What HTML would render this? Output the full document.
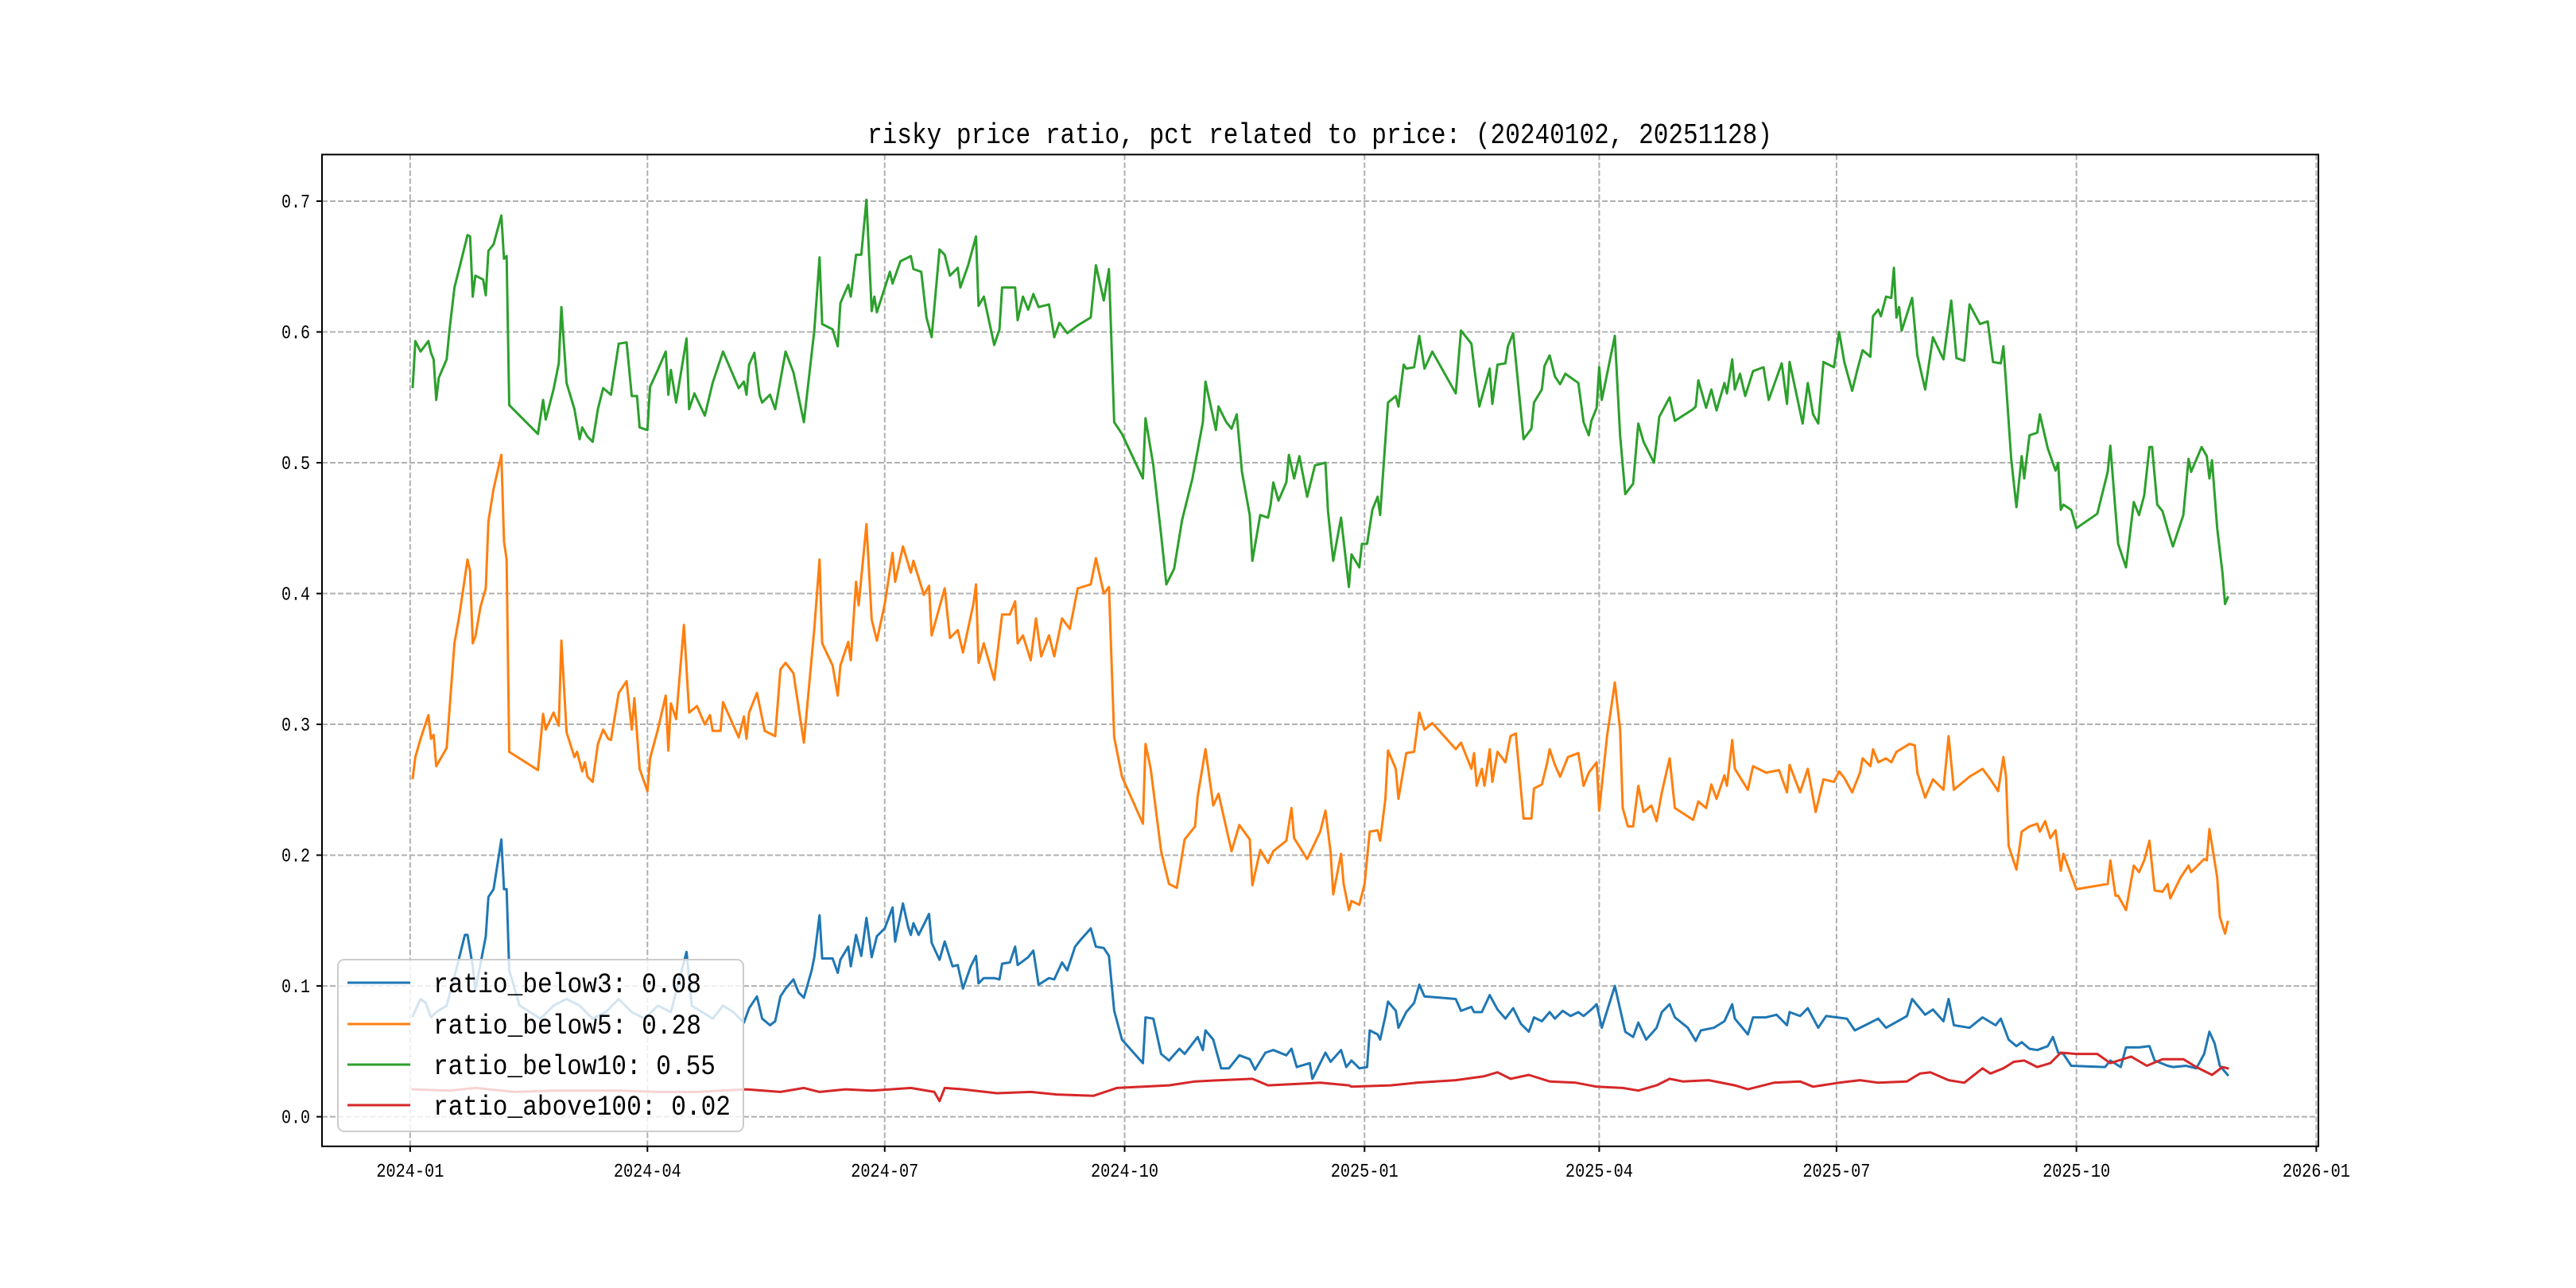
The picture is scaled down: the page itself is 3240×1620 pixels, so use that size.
<!DOCTYPE html>
<html>
<head>
<meta charset="utf-8">
<style>
html,body{margin:0;padding:0;background:#fff;}
svg{display:block;}
text{font-family:"Liberation Mono","Noto Sans CJK SC",monospace;fill:#000;}
</style>
</head>
<body>
<svg id="chart" width="3240" height="1620" viewBox="0 0 3240 1620" xmlns="http://www.w3.org/2000/svg">
<rect x="0" y="0" width="3240" height="1620" fill="#fff"/>
<text x="1660" y="180" font-size="36" text-anchor="middle" textLength="1138" lengthAdjust="spacingAndGlyphs">risky price ratio, pct related to price: (20240102, 20251128)</text>
<g id="grid"></g>
<g id="series"></g>
<rect x="405" y="194.4" width="2511" height="1247.4" fill="none" stroke="#000" stroke-width="2"/>
<g id="axes"></g>
<g id="legend"></g>
</svg>
<script>
// x values are day offsets from 2024-01-01
const xTickDays = [0, 91, 182, 274, 366, 456, 547, 639, 731];
const xTickLabels = ["2024-01","2024-04","2024-07","2024-10","2025-01","2025-04","2025-07","2025-10","2026-01"];
const yTicks = [0.0, 0.1, 0.2, 0.3, 0.4, 0.5, 0.6, 0.7];
const yTickLabels = ["0.0","0.1","0.2","0.3","0.4","0.5","0.6","0.7"];
const seriesNames = ["ratio_below3","ratio_below5","ratio_below10","ratio_above100"];
const legendValues = ["0.08","0.28","0.55","0.02"];

const below3Days = [1,4,6,8,10,14,18,21,22,24,25,27,29,30,32,35,36,37,38,42,46,50,55,60,65,70,75,80,85,90,95,100,106,108,112,116,120,124,128,130,133,135,138,140,142,144,147,149,151,154,155,157,158,162,164,165,168,169,171,173,175,177,179,182,185,186,189,191,192,193,195,197,199,200,203,205,208,210,212,215,217,218,220,224,226,227,230,232,233,237,239,241,245,247,250,252,255,257,261,263,266,268,270,273,281,282,285,288,291,295,297,302,304,305,308,311,314,318,322,324,328,331,336,338,340,345,346,351,353,357,359,361,364,367,368,371,372,374,375,378,379,382,385,387,389,401,403,407,408,411,414,417,420,423,426,429,431,434,437,439,442,445,448,450,453,455,457,462,466,469,471,474,478,480,483,485,490,493,495,500,504,507,508,513,515,520,524,528,529,533,536,540,543,551,554,558,563,566,574,576,581,584,588,590,592,598,603,608,610,613,616,618,621,624,628,630,632,634,637,650,652,656,658,663,667,669,674,676,681,685,688,690,692,694,697];
const below3Vals = [.077,.090,.087,.076,.080,.085,.115,.139,.139,.115,.097,.117,.138,.168,.174,.212,.174,.174,.112,.085,.080,.075,.085,.090,.085,.075,.080,.090,.080,.075,.085,.080,.126,.085,.080,.075,.085,.080,.072,.083,.092,.075,.070,.073,.092,.098,.105,.095,.091,.112,.122,.154,.121,.121,.110,.120,.130,.115,.139,.123,.152,.122,.138,.144,.160,.134,.163,.145,.139,.148,.139,.147,.155,.133,.120,.134,.115,.116,.098,.115,.123,.102,.106,.106,.105,.117,.118,.130,.116,.122,.127,.101,.106,.105,.118,.112,.130,.135,.144,.130,.129,.123,.081,.059,.041,.076,.075,.048,.043,.052,.048,.061,.051,.066,.059,.037,.037,.047,.044,.036,.049,.051,.047,.052,.038,.041,.029,.049,.042,.051,.038,.043,.037,.038,.066,.063,.059,.077,.088,.081,.068,.080,.087,.101,.092,.090,.081,.084,.080,.080,.093,.082,.075,.083,.071,.065,.076,.073,.080,.075,.081,.077,.080,.077,.082,.086,.068,.100,.065,.061,.072,.059,.068,.080,.086,.076,.068,.058,.066,.068,.073,.086,.075,.063,.076,.076,.078,.070,.080,.077,.083,.068,.077,.075,.066,.070,.075,.068,.077,.090,.078,.082,.073,.090,.070,.068,.076,.070,.075,.059,.054,.057,.052,.051,.054,.061,.049,.048,.039,.038,.043,.038,.053,.053,.054,.043,.039,.038,.039,.037,.048,.065,.056,.039,.032];

const below5Days = [1,2,4,7,8,9,10,14,17,19,22,23,24,25,27,29,30,32,35,36,37,38,49,51,52,55,57,58,60,63,64,66,67,68,70,72,74,76,77,80,83,85,86,88,91,92,95,98,99,100,102,105,107,110,113,115,116,119,120,126,128,129,130,133,136,140,142,144,147,151,155,157,158,162,164,165,168,169,171,172,175,177,179,182,185,186,189,192,193,197,199,200,205,207,210,212,216,217,218,220,224,227,230,232,233,235,238,240,242,245,247,250,253,256,261,263,266,268,270,273,281,282,284,288,291,294,297,301,302,305,308,310,315,318,322,323,326,329,331,336,338,339,344,349,351,353,354,357,358,360,361,364,366,368,371,372,374,375,378,379,382,385,387,389,392,401,403,407,408,409,411,412,414,415,417,420,422,424,427,430,431,434,436,437,439,441,444,448,450,452,455,456,459,462,464,465,467,469,471,473,476,478,480,483,485,492,494,497,499,501,504,505,507,508,513,515,520,525,528,529,533,536,539,542,546,548,550,553,556,557,560,561,563,566,568,570,575,577,578,581,584,588,590,592,598,603,606,609,611,612,613,616,618,621,624,625,627,629,631,633,634,639,651,652,654,655,658,661,663,665,667,669,672,674,675,679,682,683,688,689,690,693,694,696,697];
const below5Vals = [.259,.275,.289,.307,.289,.292,.268,.282,.362,.385,.426,.417,.362,.367,.390,.404,.455,.480,.506,.440,.426,.279,.265,.308,.296,.309,.299,.364,.294,.275,.279,.264,.271,.260,.256,.285,.296,.289,.288,.324,.333,.296,.320,.266,.249,.274,.296,.322,.280,.316,.304,.376,.309,.314,.300,.307,.295,.295,.317,.290,.306,.289,.309,.324,.295,.291,.342,.347,.339,.286,.373,.426,.362,.345,.322,.345,.363,.349,.409,.391,.453,.380,.364,.392,.431,.409,.436,.416,.425,.399,.406,.368,.404,.366,.372,.355,.392,.407,.347,.362,.334,.384,.384,.394,.362,.368,.349,.381,.352,.368,.352,.381,.373,.404,.407,.427,.400,.405,.290,.260,.224,.285,.266,.203,.178,.175,.212,.222,.245,.281,.238,.247,.203,.223,.212,.177,.204,.194,.203,.211,.236,.213,.197,.218,.234,.202,.170,.201,.178,.158,.165,.162,.178,.218,.219,.211,.243,.280,.266,.243,.278,.279,.309,.296,.301,.281,.286,.266,.278,.253,.266,.253,.281,.256,.279,.271,.291,.293,.228,.228,.251,.254,.270,.281,.269,.260,.275,.278,.253,.263,.271,.234,.291,.332,.296,.236,.222,.222,.253,.233,.238,.226,.248,.274,.236,.227,.241,.236,.254,.243,.261,.253,.288,.266,.250,.268,.263,.265,.248,.269,.248,.266,.233,.258,.256,.264,.259,.248,.263,.274,.268,.281,.271,.274,.271,.279,.285,.284,.263,.244,.258,.250,.291,.250,.260,.266,.258,.249,.275,.260,.207,.189,.218,.222,.224,.218,.226,.213,.219,.188,.201,.174,.178,.196,.169,.169,.158,.192,.187,.196,.211,.173,.172,.178,.167,.183,.192,.187,.197,.196,.220,.183,.153,.140,.149];

const below10Days = [1,2,4,7,8,9,10,11,14,15,17,20,22,23,24,25,28,29,30,32,35,36,37,38,49,51,52,55,57,58,60,63,65,66,68,70,72,74,77,80,83,85,87,88,91,92,95,98,99,100,102,106,107,109,113,116,120,126,128,129,130,132,134,135,138,140,144,147,151,155,157,158,162,164,165,168,169,171,173,175,177,178,179,184,185,188,192,193,196,198,200,203,205,207,210,211,214,217,218,220,224,226,227,232,233,235,237,239,241,245,247,249,252,256,261,263,266,268,270,273,281,282,285,288,290,293,296,300,304,305,309,310,313,315,317,319,322,323,326,329,330,331,333,336,337,339,341,344,347,351,352,354,357,360,361,364,365,367,369,371,372,375,378,379,381,382,385,387,389,392,401,403,407,408,410,414,415,417,420,421,423,427,430,431,434,435,437,439,441,443,448,450,452,453,455,456,457,462,464,466,469,471,473,477,478,479,483,485,492,493,494,497,499,501,504,505,507,508,510,512,515,519,521,526,528,529,534,536,538,540,542,546,548,550,553,555,557,560,561,563,564,566,568,569,570,571,572,576,578,581,584,588,591,593,596,598,602,605,607,610,611,612,614,616,618,619,621,624,625,628,631,632,633,634,637,639,647,651,652,654,655,658,661,663,665,667,668,670,672,674,676,680,682,683,687,689,690,691,693,695,696,697];
const below10Vals = [.558,.593,.585,.593,.584,.579,.548,.565,.579,.600,.634,.658,.674,.673,.627,.643,.640,.628,.662,.667,.689,.656,.658,.544,.522,.548,.533,.556,.576,.619,.561,.541,.518,.527,.520,.516,.541,.557,.552,.591,.592,.551,.551,.527,.525,.558,.571,.585,.552,.571,.546,.595,.541,.553,.536,.561,.585,.557,.562,.552,.575,.584,.552,.546,.552,.541,.585,.569,.531,.601,.657,.606,.602,.589,.622,.636,.627,.659,.659,.701,.616,.627,.615,.646,.637,.654,.658,.648,.646,.611,.596,.663,.659,.643,.649,.634,.651,.673,.620,.627,.590,.602,.634,.634,.609,.627,.617,.629,.619,.621,.596,.607,.599,.605,.611,.651,.624,.648,.531,.522,.488,.534,.498,.445,.407,.419,.456,.488,.531,.562,.525,.543,.531,.526,.537,.493,.460,.425,.460,.458,.468,.485,.471,.485,.506,.488,.505,.474,.498,.500,.463,.425,.458,.405,.430,.420,.438,.438,.464,.474,.460,.546,.551,.543,.575,.572,.573,.597,.572,.585,.553,.601,.591,.574,.543,.572,.545,.575,.576,.589,.599,.518,.526,.546,.556,.574,.582,.566,.560,.568,.561,.531,.521,.532,.542,.573,.548,.597,.521,.476,.484,.530,.516,.500,.516,.535,.550,.532,.541,.543,.563,.542,.556,.540,.561,.553,.579,.556,.568,.551,.570,.573,.548,.576,.545,.577,.530,.561,.537,.530,.577,.573,.600,.577,.555,.571,.586,.581,.612,.617,.612,.627,.626,.649,.611,.619,.601,.626,.582,.556,.596,.579,.624,.580,.578,.621,.606,.608,.577,.576,.589,.561,.503,.466,.505,.488,.521,.523,.537,.511,.494,.500,.464,.468,.464,.450,.461,.493,.513,.463,.438,.420,.470,.460,.475,.512,.512,.468,.463,.449,.436,.460,.503,.493,.512,.505,.488,.502,.450,.416,.392,.397];

const above100Days = [1,15,25,40,55,80,95,110,129,142,151,157,167,177,192,201,203,205,212,225,238,248,262,271,281,291,301,311,323,329,339,349,360,361,376,386,401,412,417,422,429,437,447,455,465,471,478,483,488,498,508,513,523,533,538,548,556,563,574,579,583,590,596,603,606,611,615,619,624,629,633,639,647,652,660,666,672,680,685,691,695,697];
const above100Vals = [.021,.020,.022,.019,.020,.020,.019,.019,.021,.019,.022,.019,.021,.020,.022,.019,.012,.022,.021,.018,.019,.017,.016,.022,.023,.024,.027,.028,.029,.024,.025,.026,.024,.023,.024,.026,.028,.031,.034,.029,.032,.027,.026,.023,.022,.020,.024,.029,.027,.028,.024,.021,.026,.027,.023,.026,.028,.026,.027,.033,.034,.028,.026,.037,.033,.037,.042,.043,.038,.041,.049,.048,.048,.041,.046,.039,.044,.044,.038,.032,.038,.037];

const seriesDays = [below3Days, below5Days, below10Days, above100Days];
const seriesVals = [below3Vals, below5Vals, below10Vals, above100Vals];
const seriesColors = ["#1f77b4","#ff7f0e","#2ca02c","#d62728"];
const seriesDataNames = ["line-ratio-below3","line-ratio-below5","line-ratio-below10","line-ratio-above100"];

const NS = "http://www.w3.org/2000/svg";
const PL = 405, PR = 2916, PT = 194.4, PB = 1441.8;
const XMIN = -33.8, XMAX = 731.8, YMIN = -0.0226, YMAX = 0.7356;
function xScale(d){ return PL + (d - XMIN) / (XMAX - XMIN) * (PR - PL); }
function yScale(v){ return PB - (v - YMIN) / (YMAX - YMIN) * (PB - PT); }
function mk(tag, attrs, parent){
  const el = document.createElementNS(NS, tag);
  for (const k in attrs) el.setAttribute(k, attrs[k]);
  parent.appendChild(el);
  return el;
}

const grid = document.getElementById('grid');
const axes = document.getElementById('axes');
xTickDays.forEach((d, i) => {
  const x = xScale(d);
  const gl = mk('line', {x1:x, x2:x, y1:PT, y2:PB, stroke:'#b0b0b0', 'stroke-width':2, 'stroke-dasharray':'7,3'}, grid);
  
  
  const tk = mk('line', {x1:x, x2:x, y1:PB, y2:PB+7, stroke:'#000', 'stroke-width':2}, axes);
  
  
  const t = mk('text', {x:x, y:PB+38, 'font-size':24, 'text-anchor':'middle', textLength:85, lengthAdjust:'spacingAndGlyphs'}, axes);
  t.textContent = xTickLabels[i];
  
  
});
yTicks.forEach((v, i) => {
  const y = yScale(v);
  const gl = mk('line', {x1:PL, x2:PR, y1:y, y2:y, stroke:'#b0b0b0', 'stroke-width':2, 'stroke-dasharray':'7,3'}, grid);
  
  
  const tk = mk('line', {x1:PL-7, x2:PL, y1:y, y2:y, stroke:'#000', 'stroke-width':2}, axes);
  
  
  const t = mk('text', {x:PL-15, y:y+8, 'font-size':24, 'text-anchor':'end', textLength:36, lengthAdjust:'spacingAndGlyphs'}, axes);
  t.textContent = yTickLabels[i];
  
  
});

const sg = document.getElementById('series');
seriesDays.forEach((days, s) => {
  const vals = seriesVals[s];
  const pts = days.map((d, i) => xScale(d).toFixed(1) + ',' + yScale(vals[i]).toFixed(1)).join(' ');
  const pl = mk('polyline', {points:pts, fill:'none', stroke:seriesColors[s], 'stroke-width':3, 'stroke-linejoin':'round', 'stroke-linecap':'square'}, sg);
  
  
});

const lg = document.getElementById('legend');
const box = mk('rect', {x:425, y:1207, width:510, height:216, rx:8, ry:8, fill:'#fff', 'fill-opacity':0.8, stroke:'#cccccc', 'stroke-width':2}, lg);


const legendY = [1236, 1288, 1339, 1390];
seriesNames.forEach((n, i) => {
  const ln = mk('line', {x1:437, x2:516, y1:legendY[i], y2:legendY[i], stroke:seriesColors[i], 'stroke-width':3}, lg);
  
  
  const label = n + ': ' + legendValues[i];
  const t = mk('text', {x:545, y:legendY[i]+12, 'font-size':35, textLength:(label.length*18.7).toFixed(0), lengthAdjust:'spacingAndGlyphs'}, lg);
  t.textContent = label;
  
  
});
</script>
</body>
</html>
